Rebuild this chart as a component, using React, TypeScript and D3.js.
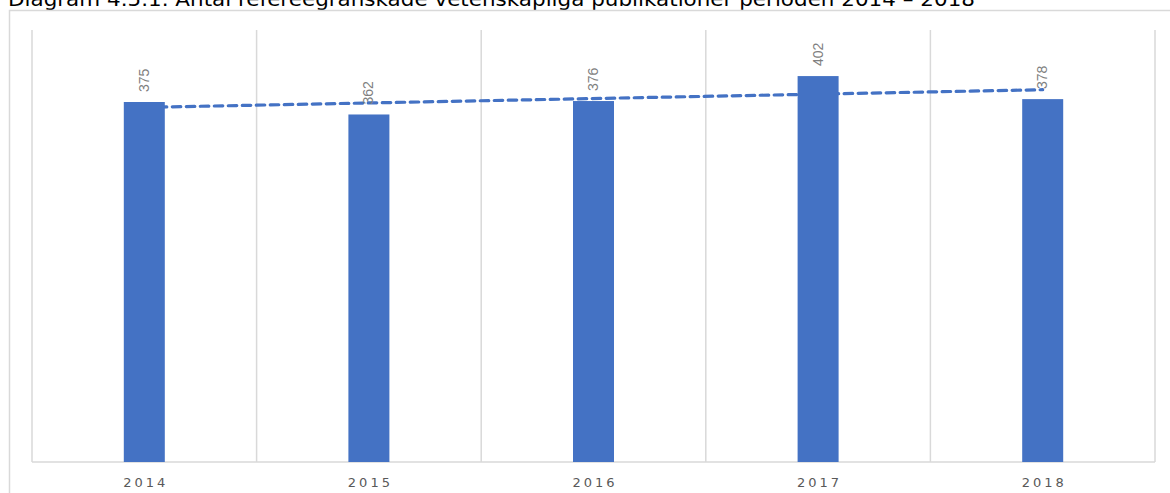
import React from "react";
import * as d3 from "d3";

const years = ["2014", "2015", "2016", "2017", "2018"];
const values = [375, 362, 376, 402, 378];
const title = "Diagram 4.5.1. Antal refereegranskade vetenskapliga publikationer perioden 2014 – 2018";

const W = 1170, H = 493;
const plot = { left: 32, right: 1155, top: 30, bottom: 462 };
const blue = "#4472C4";
const grid = "#d9d9d9";

export default function App() {
  const x = d3.scaleBand<string>().domain(years).range([plot.left, plot.right]).paddingInner(0).paddingOuter(0);
  const y = d3.scaleLinear().domain([0, 450]).range([plot.bottom, plot.top]);
  const barW = 41;

  // linear trendline
  const n = values.length;
  const xs = values.map((_, i) => i + 1);
  const mx = d3.mean(xs)!;
  const my = d3.mean(values)!;
  const slope = d3.sum(xs.map((xi, i) => (xi - mx) * (values[i] - my))) / d3.sum(xs.map((xi) => (xi - mx) ** 2));
  const intercept = my - slope * mx;
  const trendPts: [number, number][] = [
    [x(years[0])! + x.bandwidth() / 2, y(intercept + slope * 1)],
    [x(years[n - 1])! + x.bandwidth() / 2, y(intercept + slope * n)],
  ];
  const line = d3.line();

  const bounds = d3.range(years.length + 1).map((i) => plot.left + i * x.bandwidth());

  return (
    <svg width={W} height={H} style={{ position: "absolute", left: 0, top: 0, background: "#fff" }}>
      <rect x={0} y={0} width={W} height={H} fill="#fff" />
      <text x={8} y={6} fontFamily="DejaVu Sans" fontSize={19} textLength={967} lengthAdjust="spacingAndGlyphs" fill="#000">{title}</text>
      <path d={`M${W + 5},10.5 H9.5 V${H + 5}`} fill="none" stroke={grid} strokeWidth={1.5} />
      {bounds.map((b, i) => (
        <line key={i} x1={b} x2={b} y1={plot.top} y2={plot.bottom} stroke={grid} strokeWidth={1.5} />
      ))}
      <line x1={plot.left} x2={plot.right} y1={plot.bottom} y2={plot.bottom} stroke={grid} strokeWidth={1.5} />
      <path d={line(trendPts)!} fill="none" stroke={blue} strokeWidth={3.2} strokeDasharray="8.5 5.5" strokeLinecap="round" />
      {values.map((v, i) => {
        const cx = x(years[i])! + x.bandwidth() / 2;
        return (
          <g key={i}>
            <rect x={cx - barW / 2} y={y(v)} width={barW} height={plot.bottom - y(v)} fill={blue} />
            <text
              transform={`translate(${cx + 4.5},${y(v) - 10}) rotate(-90)`}
              fontFamily="Liberation Sans Narrow, Liberation Sans"
              fontSize={14}
              fill="#7f7f7f"
            >
              {v}
            </text>
            <text x={cx + 1.5} y={487} textAnchor="middle" fontFamily="DejaVu Sans" fontSize={13} letterSpacing={3} fill="#595959">
              {years[i]}
            </text>
          </g>
        );
      })}
    </svg>
  );
}
